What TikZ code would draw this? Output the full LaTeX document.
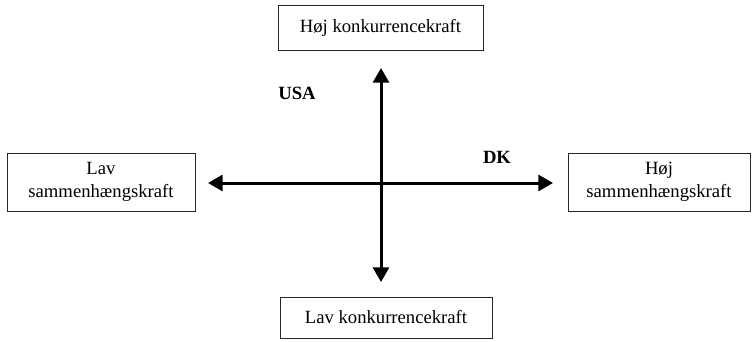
\documentclass[tikz,border=0pt]{standalone}
\usepackage{fontspec}
\setmainfont{Liberation Serif}
\usetikzlibrary{arrows.meta,positioning}
\tikzset{
  pole/.style={draw=black!85, thin, fill=white, inner sep=0pt, align=center,
              font=\fontsize{14}{17}\selectfont},
  axis/.style={{Triangle[length=11pt,width=12pt]}-{Triangle[length=11pt,width=12pt]},
              line width=2.25pt},
  tag/.style={font=\fontsize{14}{17}\selectfont\bfseries},
}
\begin{document}
\begin{tikzpicture}[x=0.75pt,y=-0.75pt]
    \useasboundingbox (0,0) rectangle (756,342);
    % the four poles
    \node[pole, minimum width=153.75pt, minimum height=33.75pt] (hojkonk) at (380.5,27.5) {Høj konkurrencekraft};
    \node[pole, minimum width=159pt, minimum height=30.75pt] (lavkonk) at (386,317.5) {Lav konkurrencekraft};
    \node[pole, minimum width=141pt, minimum height=43.5pt] (lavsam) at (101,182) {Lav\\sammenhængskraft};
    \node[pole, minimum width=136.5pt, minimum height=43.5pt] (hojsam) at (659,182) {Høj\\sammenhængskraft};
    % axes
    \coordinate (n) at (381,68);
    \coordinate (s) at (381,282);
    \coordinate (w) at (208,183);
    \coordinate (e) at (553,183);
    \draw[axis] (s) -- (n);
    \draw[axis] (w) -- (e);
    % countries
    \node[tag] (usa) at (297,93) {USA};
    \node[tag] (dk) at (497,157) {DK};
  \end{tikzpicture}
\end{document}
